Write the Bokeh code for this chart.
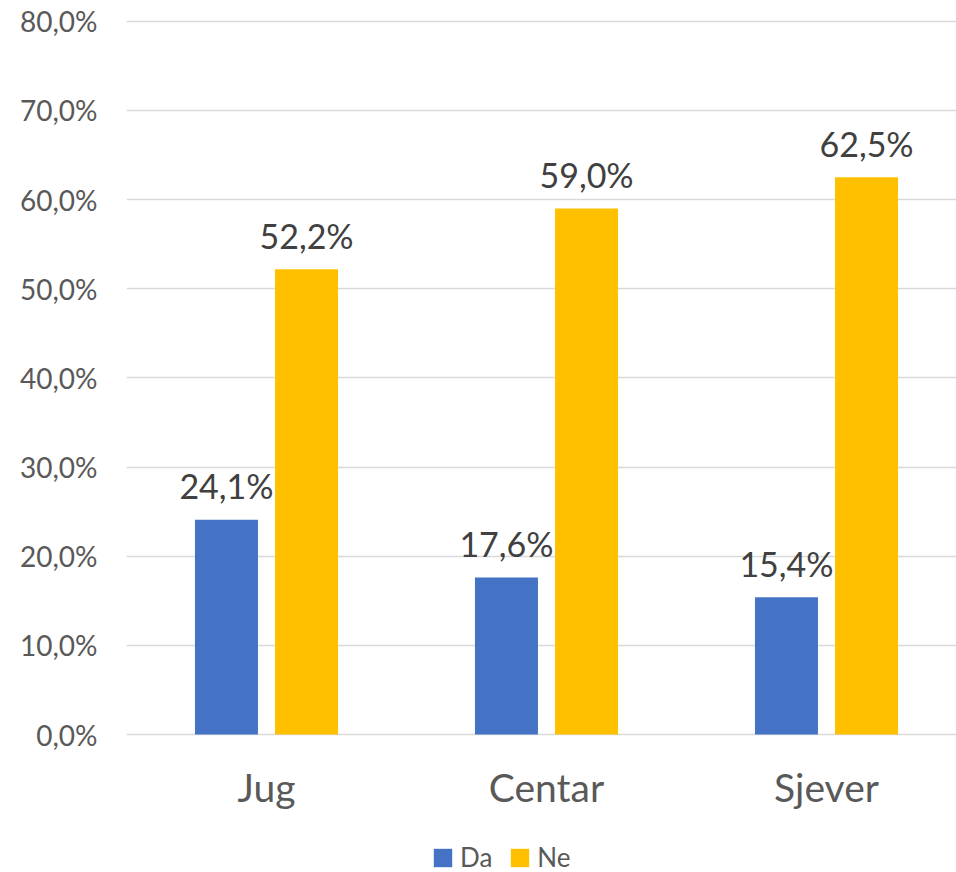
from bokeh.plotting import figure
from bokeh.models import Range1d, FixedTicker, Legend, LegendItem, ColumnDataSource
from bokeh.transform import dodge
from bokeh.core.properties import value
from bokeh.embed import file_html
from bokeh.resources import INLINE

# ---- data ----
categories = ["Jug", "Centar", "Sjever"]
series_names = ["Da", "Ne"]
da_values = [24.1, 17.6, 15.4]
ne_values = [52.2, 59.0, 62.5]
y_ticks = [0, 10, 20, 30, 40, 50, 60, 70, 80]
y_tick_labels = ["0,0%", "10,0%", "20,0%", "30,0%", "40,0%", "50,0%", "60,0%", "70,0%", "80,0%"]

BLUE = "#4472C4"
GOLD = "#FFC000"
FONT = "Lato"

def fmt(v):
    return ("%.1f" % v).replace(".", ",") + "%"

xs = [i + 0.5 for i in range(len(categories))]
src = ColumnDataSource(dict(
    x=xs, da=da_values, ne=ne_values,
    da_lab=[fmt(v) for v in da_values], ne_lab=[fmt(v) for v in ne_values],
))

# frame covers the whole lower area so the legend can sit below the category labels
px_per_unit = 715 / 80.2
p = figure(width=956, height=872, output_backend="svg", toolbar_location=None,
           x_range=Range1d(0, 830 / 280), y_range=Range1d(-138 / px_per_unit, 80.2),
           min_border_left=126, min_border_right=0, min_border_top=19, min_border_bottom=0)
p.outline_line_color = None
p.background_fill_color = "white"
p.border_fill_color = "white"

off = 0.143
bw = 0.225
r_da = p.vbar(x=dodge("x", -off, range=p.x_range), top="da", bottom=0, width=bw, source=src,
              fill_color=BLUE, line_color=None)
r_ne = p.vbar(x=dodge("x", off, range=p.x_range), top="ne", bottom=0, width=bw, source=src,
              fill_color=GOLD, line_color=None)

p.text(x=dodge("x", -off, range=p.x_range), y="da", text="da_lab", source=src,
       text_align="center", text_baseline="alphabetic", y_offset=-34,
       text_font=value(FONT), text_font_size="34px", text_color="#404040")
p.text(x=dodge("x", off, range=p.x_range), y="ne", text="ne_lab", source=src,
       text_align="center", text_baseline="alphabetic", y_offset=-34,
       text_font=value(FONT), text_font_size="34px", text_color="#404040")

# axes
p.yaxis.ticker = FixedTicker(ticks=y_ticks)
p.yaxis.major_label_overrides = {t: l for t, l in zip(y_ticks, y_tick_labels)}
p.yaxis.axis_line_color = None
p.yaxis.major_tick_line_color = None
p.yaxis.minor_tick_line_color = None
p.yaxis.major_label_standoff = 23
p.yaxis.major_label_text_font = FONT
p.yaxis.major_label_text_font_size = "28px"
p.yaxis.major_label_text_color = "#595959"

p.xaxis.fixed_location = 0
p.xaxis.ticker = FixedTicker(ticks=xs)
p.xaxis.major_label_overrides = {x: c for x, c in zip(xs, categories)}
p.xaxis.axis_line_color = None
p.xaxis.major_tick_line_color = None
p.xaxis.minor_tick_line_color = None
p.xaxis.major_label_standoff = 23
p.xaxis.major_label_text_font = FONT
p.xaxis.major_label_text_font_size = "39px"
p.xaxis.major_label_text_color = "#595959"

p.xgrid.grid_line_color = None
p.ygrid.grid_line_color = "#D9D9D9"
p.ygrid.grid_line_width = 1.5
p.ygrid.ticker = FixedTicker(ticks=y_ticks)

legend = Legend(items=[LegendItem(label=series_names[0], renderers=[r_da]),
                       LegendItem(label=series_names[1], renderers=[r_ne])],
                orientation="horizontal", location=(305, -1),
                border_line_color=None, background_fill_alpha=0,
                padding=0, margin=0, spacing=16,
                glyph_width=23, glyph_height=23, label_standoff=6,
                label_text_font=FONT, label_text_font_size="26px",
                label_text_color="#595959")
p.add_layout(legend, "center")

open("out.html", "w").write(file_html(p, INLINE))
